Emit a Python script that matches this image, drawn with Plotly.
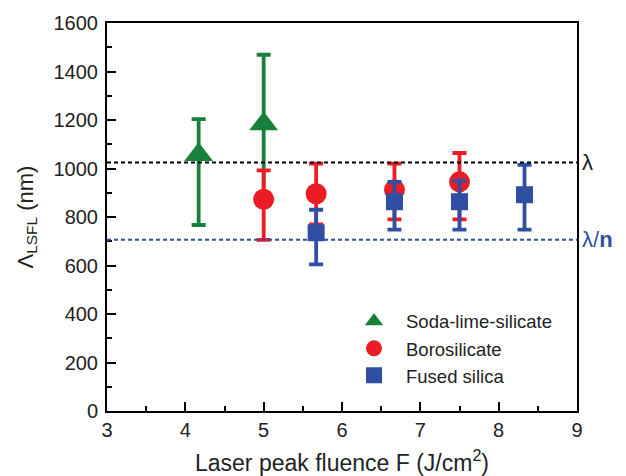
import plotly.graph_objects as go

# LSFL period vs. laser peak fluence for three glasses
fluence_sls = [4.17, 5.0]
period_sls = [1057, 1184]
err_up_sls = [147, 285]
err_dn_sls = [290, 285]

fluence_boro = [5.0, 5.67, 6.67, 7.5]
period_boro = [873, 896, 912, 945]
err_up_boro = [119, 124, 108, 119]
err_dn_boro = [167, 126, 122, 155]

fluence_fs = [5.67, 6.67, 7.5, 8.33]
period_fs = [735, 863, 863, 892]
err_up_fs = [95, 82, 87, 123]
err_dn_fs = [130, 115, 115, 144]

lambda_nm = 1025       # laser wavelength
lambda_over_n = 706    # wavelength inside fused silica

GREEN = "#17803a"
RED = "#ec1c24"
BLUE = "#2f4fa2"
FONT = "Arial, Liberation Sans, sans-serif"
TXT = "#222222"

fig = go.Figure()

series = [
    ("Soda-lime-silicate", fluence_sls, period_sls, err_up_sls, err_dn_sls, GREEN, "triangle-up", 25),
    ("Borosilicate", fluence_boro, period_boro, err_up_boro, err_dn_boro, RED, "circle", 21),
    ("Fused silica", fluence_fs, period_fs, err_up_fs, err_dn_fs, BLUE, "square", 17),
]

for name, xs, ys, up, dn, col, sym, sz in series:
    fig.add_trace(go.Scatter(
        x=xs, y=ys, mode="markers", showlegend=False,
        marker=dict(symbol=sym, size=sz, color=col, line=dict(width=0)),
        error_y=dict(type="data", array=up, arrayminus=dn, symmetric=False,
                     color=col, thickness=3.8, width=7),
    ))

for name, xs, ys, up, dn, col, sym, sz in series:
    fig.add_trace(go.Scatter(
        x=[None], y=[None], mode="markers", name=name,
        marker=dict(symbol=sym, size=16, color=col, line=dict(width=0)),
    ))

# reference wavelength lines
fig.add_shape(type="line", xref="paper", x0=0, x1=1, y0=lambda_nm, y1=lambda_nm,
              line=dict(color="black", width=2, dash="4px,3px"))
fig.add_shape(type="line", xref="paper", x0=0, x1=1, y0=lambda_over_n, y1=lambda_over_n,
              line=dict(color=BLUE, width=2, dash="4px,3px"))
fig.add_annotation(xref="paper", x=1, y=lambda_nm, text="λ", showarrow=False,
                   xanchor="left", xshift=3, font=dict(family=FONT, size=22, color=TXT))
fig.add_annotation(xref="paper", x=1, y=lambda_over_n, text="λ/<b>n</b>", showarrow=False,
                   xanchor="left", xshift=3, font=dict(family=FONT, size=22, color=BLUE))

# x-axis title placed below the tick labels
fig.add_annotation(xref="paper", yref="paper", x=0.5, y=-0.13, yanchor="middle",
                   text="Laser peak fluence F (J/cm<sup>2</sup>)", showarrow=False,
                   font=dict(family=FONT, size=23, color=TXT))

axis_common = dict(
    showline=True, linecolor="black", linewidth=2, mirror=True,
    ticks="inside", tickcolor="black", tickwidth=1.5, ticklen=9,
    showgrid=False, zeroline=False,
    tickfont=dict(family=FONT, size=20, color=TXT),
)

fig.update_xaxes(
    range=[3, 9], tick0=3, dtick=1, automargin=False,
    minor=dict(ticks="inside", dtick=0.5, ticklen=5, tickwidth=1.5, tickcolor="black", showgrid=False),
    **axis_common,
)
fig.update_yaxes(
    range=[0, 1600], tick0=0, dtick=200,
    minor=dict(ticks="inside", dtick=100, ticklen=5, tickwidth=1.5, tickcolor="black", showgrid=False),
    title=dict(text="Λ<sub>LSFL</sub> (nm)", font=dict(family=FONT, size=22, color=TXT), standoff=14),
    ticklabelstandoff=3,
    **axis_common,
)

fig.update_layout(
    width=626, height=476,
    margin=dict(l=107, r=49, t=20, b=65),
    plot_bgcolor="white", paper_bgcolor="white",
    legend=dict(x=0.5, y=0.279, xanchor="left", yanchor="top",
                bgcolor="rgba(0,0,0,0)", itemwidth=54,
                font=dict(family=FONT, size=18.5, color=TXT)),
)

fig.write_html("out.html")
